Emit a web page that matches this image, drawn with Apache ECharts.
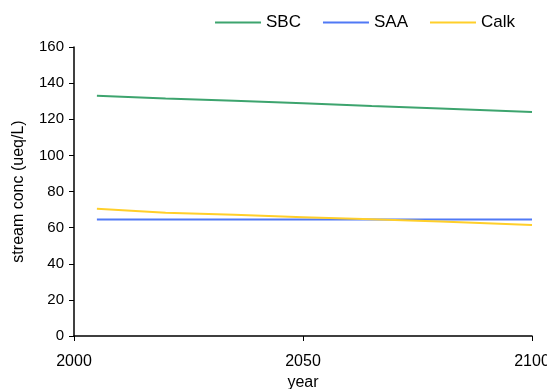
<!DOCTYPE html>
<html><head><meta charset="utf-8">
<script src="https://cdn.jsdelivr.net/npm/echarts@6/dist/echarts.min.js"></script>
<style>html,body{margin:0;padding:0;background:#fff}#c{width:547px;height:389px}</style>
</head><body><div id="c"></div>
<script>
const years = [2005, 2020, 2035, 2050, 2065, 2080, 2100];
const sbc  = [133.0, 131.5, 130.2, 128.8, 127.3, 125.9, 124.0];
const saa  = [64.5, 64.5, 64.5, 64.5, 64.5, 64.5, 64.5];
const calk = [70.5, 68.3, 67.1, 65.8, 64.6, 63.4, 61.5];
const xTicks = [2000, 2050, 2100];
const yTicks = [0, 20, 40, 60, 80, 100, 120, 140, 160];

const pair = a => years.map((y, i) => [y, a[i]]);
const font = "'Liberation Sans', Arial, sans-serif";
const chart = echarts.init(document.getElementById('c'), null, {renderer: 'canvas'});
chart.setOption({
  animation: false,
  backgroundColor: '#fff',
  grid: {left: 74, right: 15, top: 47, bottom: 53, containLabel: false, outerBoundsMode: 'none'},
  legend: {
    right: 27, top: 9,
    icon: 'rect', itemWidth: 46, itemHeight: 2, itemGap: 22,
    textStyle: {fontFamily: font, fontSize: 17, color: '#000'},
    data: ['SBC', 'SAA', 'Calk']
  },
  xAxis: {
    type: 'value', min: xTicks[0], max: xTicks[xTicks.length - 1], interval: 50,
    name: 'year', nameLocation: 'middle', nameGap: 38,
    nameTextStyle: {fontFamily: font, fontSize: 16, color: '#000'},
    axisLine: {lineStyle: {color: '#000', width: 1.5}},
    axisTick: {show: true, length: 5, lineStyle: {color: '#000'}},
    axisLabel: {fontFamily: font, fontSize: 16, color: '#000', margin: 18, formatter: v => String(v)},
    splitLine: {show: false}
  },
  yAxis: {
    type: 'value', min: yTicks[0], max: yTicks[yTicks.length - 1], interval: 20,
    name: 'stream conc (ueq/L)', nameLocation: 'middle', nameGap: 47,
    nameTextStyle: {fontFamily: font, fontSize: 16, color: '#000'},
    axisLine: {show: true, lineStyle: {color: '#000', width: 1.5}},
    axisTick: {show: true, length: 5, lineStyle: {color: '#000'}},
    axisLabel: {fontFamily: font, fontSize: 15, color: '#000', margin: 10, formatter: v => String(v)},
    splitLine: {show: false}
  },
  series: [
    {name: 'SBC', type: 'line', data: pair(sbc), symbol: 'none', lineStyle: {color: '#3da46e', width: 2}, itemStyle: {color: '#3da46e'}},
    {name: 'SAA', type: 'line', data: pair(saa), symbol: 'none', lineStyle: {color: '#5079f5', width: 2}, itemStyle: {color: '#5079f5'}},
    {name: 'Calk', type: 'line', data: pair(calk), symbol: 'none', lineStyle: {color: '#ffcf2a', width: 2}, itemStyle: {color: '#ffcf2a'}}
  ]
});
</script></body></html>
